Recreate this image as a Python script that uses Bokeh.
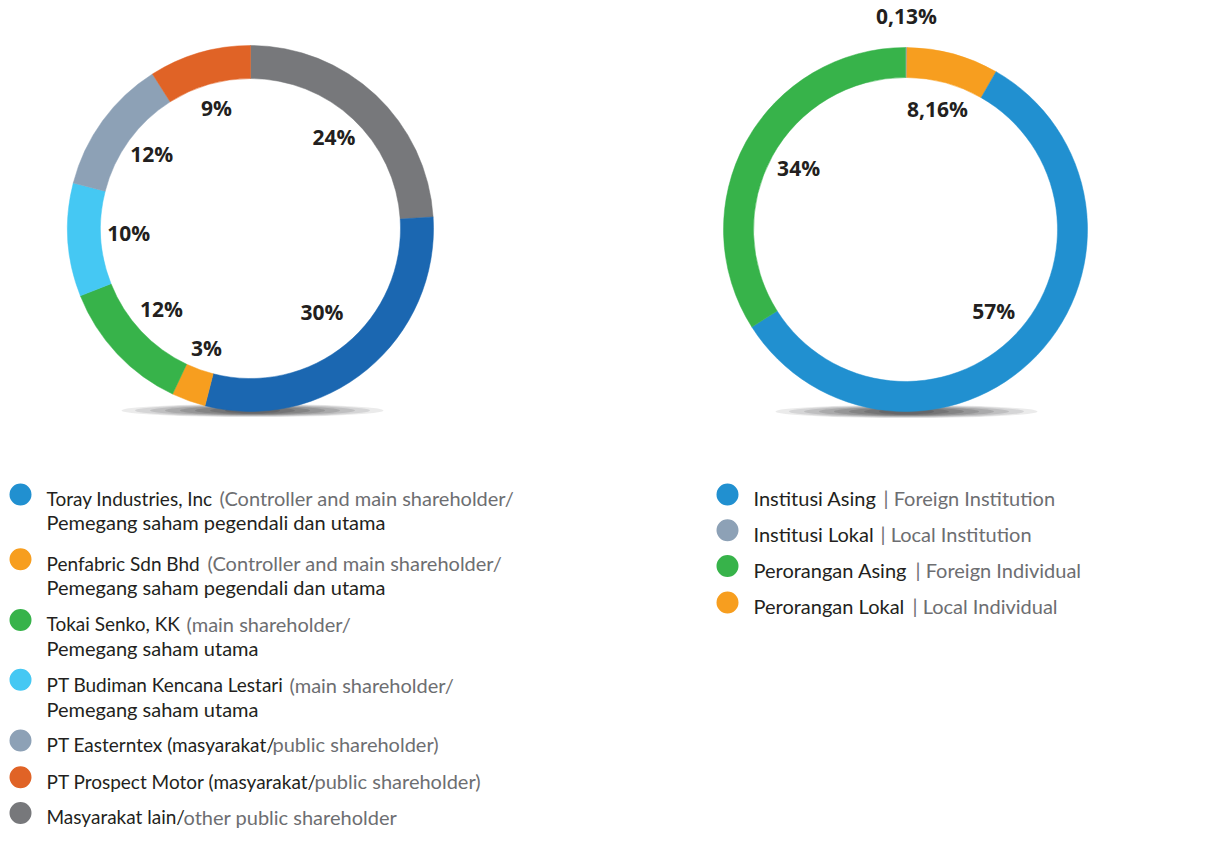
import math
from bokeh.plotting import figure
from bokeh.models import Range1d, ColumnDataSource
from bokeh.core.properties import value
from bokeh.embed import file_html
from bokeh.resources import INLINE

# ---------------- data ----------------
left_names = ["Toray Industries, Inc", "Penfabric Sdn Bhd", "Tokai Senko, KK",
              "PT Budiman Kencana Lestari", "PT Easterntex", "PT Prospect Motor",
              "Masyarakat lain"]
left_values = [30, 3, 12, 10, 12, 9, 24]
left_labels = ["30%", "3%", "12%", "10%", "12%", "9%", "24%"]
left_main = ["Toray Industries, Inc", "Penfabric Sdn Bhd", "Tokai Senko, KK",
             "PT Budiman Kencana Lestari", "PT Easterntex (masyarakat/",
             "PT Prospect Motor (masyarakat/", "Masyarakat lain/"]
left_note = ["(Controller and main shareholder/", "(Controller and main shareholder/",
             "(main shareholder/", "(main shareholder/", "public shareholder)",
             "public shareholder)", "other public shareholder"]
left_line2 = ["Pemegang saham pegendali dan utama", "Pemegang saham pegendali dan utama",
              "Pemegang saham utama", "Pemegang saham utama", "", "", ""]

right_names = ["Institusi Asing", "Institusi Lokal", "Perorangan Asing", "Perorangan Lokal"]
right_en = ["Foreign Institution", "Local Institution", "Foreign Individual", "Local Individual"]
right_values = [57.71, 0.13, 34.0, 8.16]
right_labels = ["57%", "0,13%", "34%", "8,16%"]

# ---------------- styles / layout ----------------
left_ring_colors = ["#1b67b1", "#f79e1f", "#37b34a", "#45c8f3", "#8da1b6", "#e06326", "#77787b"]
left_legend_colors = ["#2190d0", "#f79e1f", "#37b34a", "#45c8f3", "#8da1b6", "#e06326", "#77787b"]
right_colors = ["#2190d0", "#8da1b6", "#37b34a", "#f79e1f"]
left_order = [6, 0, 1, 2, 3, 4, 5]     # clockwise from 12 o'clock
right_order = [1, 3, 0, 2]

BLACK = "#231f20"
GREY = "#6d6e71"
FONT = "Lato"

p = figure(width=1190, height=830, output_backend="svg", toolbar_location=None,
           x_range=Range1d(0, 1190), y_range=Range1d(830, 0), min_border=0)
p.axis.visible = False
p.xgrid.visible = False
p.ygrid.visible = False
p.outline_line_color = None
p.background_fill_color = "white"
p.border_fill_color = "white"


def shadow(cx, cy):
    for w, h, a in [(262, 13, 0.10), (235, 12, 0.12), (205, 11, 0.14), (175, 10, 0.16),
                    (145, 9, 0.18), (115, 8, 0.20), (85, 7, 0.22), (55, 6, 0.24)]:
        p.ellipse(x=[cx], y=[cy], width=w, height=h, fill_color="#3c3c3e",
                  fill_alpha=a, line_color=None)


def donut(cx, cy, r_in, r_out, vals, colors, order, labels, label_r, special=None):
    total = sum(vals)
    cum = 0.0
    xs, ys, starts, ends, cols, lx, ly_, lt = [], [], [], [], [], [], [], []
    for i in order:
        f0 = cum / total
        cum += vals[i]
        f1 = cum / total
        starts.append(math.pi / 2 - 2 * math.pi * f0)
        ends.append(math.pi / 2 - 2 * math.pi * f1)
        cols.append(colors[i])
        xs.append(cx)
        ys.append(cy)
        mid = 2 * math.pi * (f0 + f1) / 2
        rr = label_r
        if special and i in special:
            rr = special[i]
        lx.append(cx + rr * math.sin(mid))
        ly_.append(cy - rr * math.cos(mid) - 3)
        lt.append(labels[i])
    src = ColumnDataSource(dict(x=xs, y=ys, s=starts, e=ends, c=cols))
    p.annular_wedge(x="x", y="y", inner_radius=r_in, outer_radius=r_out,
                    start_angle="s", end_angle="e", direction="clock",
                    fill_color="c", line_color="c", line_width=0.5, source=src)
    p.text(x=lx, y=ly_, text=lt, text_font=value("Open Sans"), text_font_style="bold",
           text_font_size="21px", text_color=BLACK, text_align="center",
           text_baseline="middle")


shadow(252, 410)
shadow(906, 411)
donut(250, 228, 150, 183, left_values, left_ring_colors, left_order, left_labels, 122,
      special={0: 112, 1: 130})
donut(905, 229, 152, 182, right_values, right_colors, right_order, right_labels, 122,
      special={1: 211})


def ly(y):
    # legend rows, gently compressed to fit the page height
    return y - 6 - (y - 500) * 0.035


# ---------------- left legend ----------------
marker_y = [ly(v) for v in [500, 567, 630, 692, 755, 793, 830]]
text_y = [ly(v) for v in [504, 571, 634, 697, 759, 797, 834]]
line2_y = [ly(v) for v in [529, 596, 659, 722]]
note_x = [219, 207, 186, 289, 272, 314, 183]
p.circle(x=[20] * 7, y=marker_y, radius=11, fill_color=left_legend_colors, line_color=None)
p.text(x=[46] * 7, y=text_y, text=left_main, text_font=value(FONT), text_font_size="19px",
       text_color=BLACK, text_baseline="middle")
p.text(x=note_x, y=text_y, text=left_note, text_font=value(FONT), text_font_size="20px",
       text_color=GREY, text_baseline="middle")
p.text(x=[46] * 4, y=line2_y, text=left_line2[:4], text_font=value(FONT),
       text_font_size="20px", text_color=BLACK, text_baseline="middle")

# ---------------- right legend ----------------
r_marker_y = [ly(v) for v in [500, 537, 574, 612]]
r_text_y = [ly(v) for v in [504, 541, 578, 616]]
bar_x = [883, 880, 915, 912]
p.circle(x=[727] * 4, y=r_marker_y, radius=11, fill_color=right_colors, line_color=None)
p.text(x=[753] * 4, y=r_text_y, text=right_names, text_font=value(FONT),
       text_font_size="20px", text_color=BLACK, text_baseline="middle")
p.text(x=bar_x, y=r_text_y, text=["| " + s for s in right_en], text_font=value(FONT),
       text_font_size="20px", text_color=GREY, text_baseline="middle")

open("out.html", "w").write(file_html(p, INLINE))
